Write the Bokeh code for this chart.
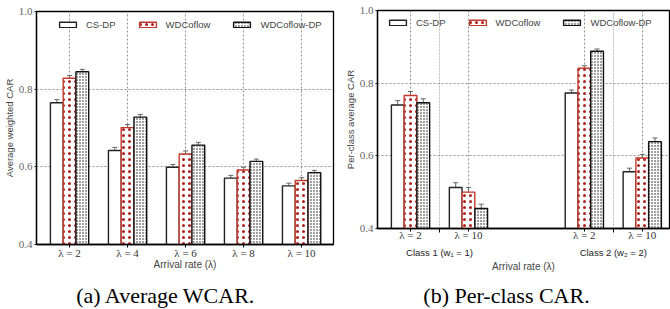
from bokeh.plotting import figure
from bokeh.models import (FixedTicker, Legend, LegendItem, Whisker, ColumnDataSource,
                          TeeHead, Range1d, PrintfTickFormatter, LinearAxis)
from bokeh.layouts import row, column
from bokeh.embed import file_html
from bokeh.resources import INLINE

# ---------------- data ----------------
series = ["CS-DP", "WDCoflow", "WDCoflow-DP"]
y_ticks = [0.4, 0.6, 0.8, 1.0]

# panel (a): average weighted CAR
rates_a = ["λ = 2", "λ = 4", "λ = 6", "λ = 8", "λ = 10"]
a_csdp = [0.765, 0.642, 0.599, 0.571, 0.551]
a_wdc = [0.828, 0.701, 0.633, 0.592, 0.565]
a_wdcdp = [0.845, 0.728, 0.656, 0.614, 0.585]
a_err_csdp = [0.008, 0.008, 0.007, 0.007, 0.007]
a_err_wdc = [0.007, 0.008, 0.008, 0.007, 0.007]
a_err_wdcdp = [0.006, 0.007, 0.007, 0.006, 0.006]

# panel (b): per-class average CAR
classes_b = ["Class 1 (w₁ = 1)", "Class 2 (w₂ = 2)"]
rates_b = ["λ = 2", "λ = 10"]
b_csdp = [0.740, 0.513, 0.773, 0.556]
b_wdc = [0.766, 0.500, 0.841, 0.594]
b_wdcdp = [0.746, 0.455, 0.888, 0.639]
b_err_csdp = [0.012, 0.013, 0.008, 0.010]
b_err_wdc = [0.011, 0.013, 0.007, 0.010]
b_err_wdcdp = [0.011, 0.012, 0.006, 0.010]

captions = ["(a) Average WCAR.", "(b) Per-class CAR."]
xlabel = "Arrival rate (λ)"

# ---------------- styles ----------------
BAR_W = 0.22
styles = [
    dict(fill_color="white", line_color="#222222"),
    dict(fill_color="white", line_color="#c0392b", hatch_pattern="dot",
         hatch_color="#b01e1e", hatch_scale=6, hatch_weight=1),
    dict(fill_color="white", line_color="#111111", hatch_pattern="dot",
         hatch_color="#111111", hatch_scale=3, hatch_weight=1),
]
GRID_COLOR = "#777777"
SERIF = "Liberation Serif"
SANS = "Liberation Sans"


def make_panel(width, height, borders, xr, positions, tick_labels, values, errs,
               ylabel, legend_xy, legend_spacing, minor=None, tick_standoff=0):
    bl, br, bt, bb = borders
    p = figure(width=width, height=height, output_backend="svg", toolbar_location=None,
               x_range=Range1d(*xr), y_range=Range1d(0.4, 1.0),
               min_border_left=bl, min_border_right=br, min_border_top=bt,
               min_border_bottom=bb)
    p.outline_line_color = "black"
    p.outline_line_width = 1.3
    p.outline_line_alpha = 1.0

    p.xgrid.grid_line_color = GRID_COLOR
    p.xgrid.grid_line_dash = "2 2"
    p.xgrid.grid_line_width = 0.8
    p.ygrid.grid_line_color = GRID_COLOR
    p.ygrid.grid_line_dash = "2 2"
    p.ygrid.grid_line_width = 0.8
    if minor:
        p.xgrid.minor_grid_line_color = "#aaaaaa"
        p.xgrid.minor_grid_line_dash = "2 1"
        p.xgrid.minor_grid_line_width = 0.8

    xa = p.xaxis[0]
    xa.ticker = FixedTicker(ticks=positions, minor_ticks=minor or [])
    xa.major_label_overrides = {pos: lab for pos, lab in zip(positions, tick_labels)}
    xa.major_label_text_font = SERIF
    xa.major_label_text_font_size = "11px"
    xa.major_label_text_color = "#333333"
    xa.major_label_standoff = tick_standoff
    xa.major_tick_out = 3
    xa.major_tick_in = 0
    xa.minor_tick_out = 4
    xa.minor_tick_in = 0
    xa.axis_line_width = 1.3
    xa.axis_line_color = "black"

    ya = p.yaxis[0]
    ya.ticker = FixedTicker(ticks=y_ticks, minor_ticks=[])
    ya.formatter = PrintfTickFormatter(format="%.1f")
    ya.major_label_text_font = SERIF
    ya.major_label_text_font_size = "11px"
    ya.major_label_text_color = "#666666"
    ya.major_label_standoff = 2
    ya.major_tick_out = 2
    ya.major_tick_in = 0
    ya.axis_line_width = 1.3
    ya.axis_line_color = "black"
    ya.axis_label = ylabel
    ya.axis_label_text_font = SANS
    ya.axis_label_text_font_size = "9.5px"
    ya.axis_label_text_font_style = "normal"
    ya.axis_label_standoff = 1

    items = []
    for k in range(len(series)):
        xs = [x + (k - 1) * BAR_W for x in positions]
        src = ColumnDataSource(dict(x=xs, top=values[k],
                                    upper=[v + e for v, e in zip(values[k], errs[k])],
                                    lower=[v - e for v, e in zip(values[k], errs[k])]))
        r = p.vbar(x="x", top="top", bottom=0, width=BAR_W, source=src,
                   line_width=1.4, **styles[k])
        items.append(LegendItem(label=series[k], renderers=[r]))
        p.add_layout(Whisker(source=src, base="x", upper="upper", lower="lower",
                             line_color="#666666", line_width=1,
                             upper_head=TeeHead(size=5, line_color="#666666", line_width=1),
                             lower_head=TeeHead(size=5, line_color="#666666", line_width=1)))

    leg = Legend(items=items, orientation="horizontal", location=legend_xy,
                 glyph_width=21, glyph_height=7, label_standoff=8,
                 spacing=legend_spacing, padding=0, margin=0,
                 label_text_font=SANS, label_text_font_size="9.5px",
                 label_height=12, background_fill_alpha=0, border_line_alpha=0)
    p.add_layout(leg)
    return p


def make_caption(width, height, frame_lr, text, cx, cy):
    # the caption figure's frame is aligned with the panel frame above it,
    # so map its x range to the figure's pixel columns
    c = figure(width=width, height=height, output_backend="svg", toolbar_location=None,
               x_range=Range1d(frame_lr[0], width - frame_lr[1]), y_range=Range1d(0, height),
               x_axis_type=None, y_axis_type=None,
               min_border=0, outline_line_color=None)
    c.grid.visible = False
    c.text(x=[cx], y=[height - cy], text=[text], text_font="Liberation Serif",
           text_font_size="22px", text_align="center", text_baseline="middle",
           text_color="black")
    return c


# panel (a)
pos_a = list(range(len(rates_a)))
bord_a = (35, 2, 11, 36)
pa = make_panel(335, 280, bord_a, (-0.57, 4.55), pos_a, rates_a,
                [a_csdp, a_wdc, a_wdcdp], [a_err_csdp, a_err_wdc, a_err_wdcdp],
                "Average weighted CAR", (21, 214), 21, tick_standoff=-1)
pa.xaxis[0].axis_label = xlabel
pa.xaxis[0].axis_label_text_font = SANS
pa.xaxis[0].axis_label_text_font_size = "10px"
pa.xaxis[0].axis_label_text_font_style = "normal"
pa.xaxis[0].axis_label_standoff = -3

# panel (b)
pos_b = []
for ci in range(len(classes_b)):
    for ri in range(len(rates_b)):
        pos_b.append(ci * (len(rates_b) + 1) + ri)
ticks_b = [rates_b[ri] for ci in range(len(classes_b)) for ri in range(len(rates_b))]
class_centers = [ci * (len(rates_b) + 1) + (len(rates_b) - 1) / 2 for ci in range(len(classes_b))]
bord_b = (42, 1, 10, 52)
pb = make_panel(335, 280, bord_b, (-0.57, 4.47), pos_b, ticks_b,
                [b_csdp, b_wdc, b_wdcdp], [b_err_csdp, b_err_wdc, b_err_wdcdp],
                "Per-class average CAR", (10, 200), 21, minor=class_centers,
                tick_standoff=-4)
cax = LinearAxis(ticker=FixedTicker(ticks=class_centers, minor_ticks=[]),
                 major_label_overrides={c: l for c, l in zip(class_centers, classes_b)},
                 axis_line_alpha=0, major_tick_out=0, major_tick_in=0,
                 major_label_standoff=3, major_label_text_font=SANS,
                 major_label_text_font_size="9.5px", major_label_text_color="#222222",
                 axis_label=xlabel, axis_label_text_font=SANS,
                 axis_label_text_font_size="10px", axis_label_text_font_style="normal",
                 axis_label_standoff=0)
pb.add_layout(cax, "below")

ca = make_caption(335, 29, (bord_a[0], bord_a[1]), captions[0], 165, 15)
cb = make_caption(335, 29, (bord_b[0], bord_b[1]), captions[1], 171, 15)

layout = row(column(pa, ca), column(pb, cb))
open("out.html", "w").write(file_html(layout, INLINE))
